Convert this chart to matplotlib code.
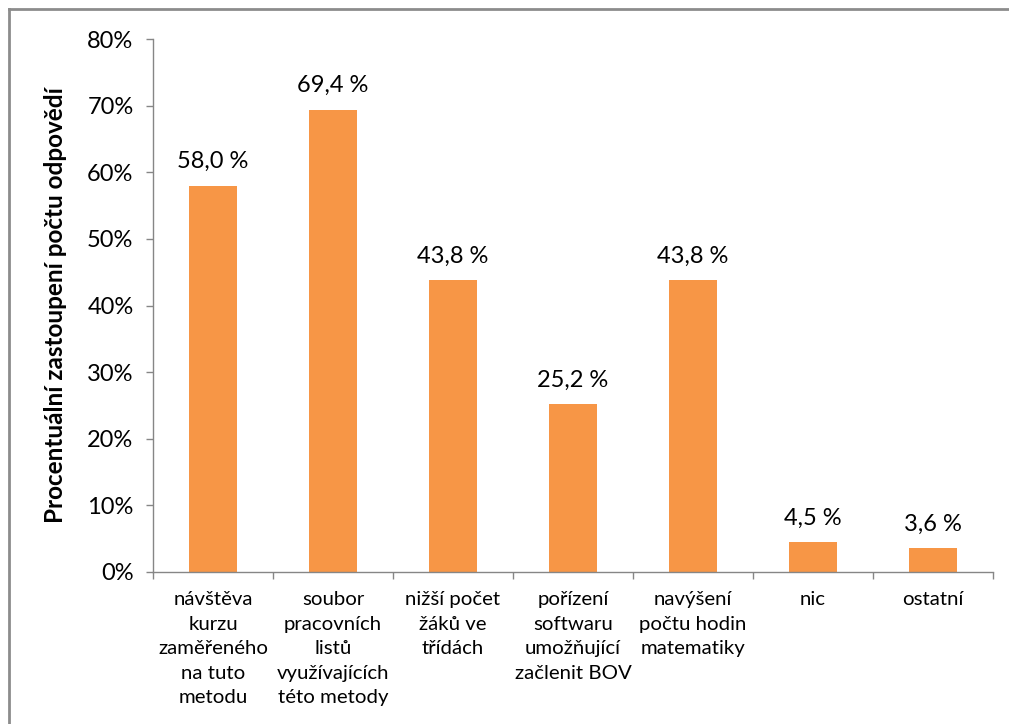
import matplotlib.pyplot as plt
import numpy as np
from matplotlib.lines import Line2D
from matplotlib.ticker import FuncFormatter, FixedLocator, NullFormatter

categories = [
    "návštěva\nkurzu\nzaměřeného\nna tuto\nmetodu",
    "soubor\npracovních\nlistů\nvyužívajících\ntéto metody",
    "nižší počet\nžáků ve\ntřídách",
    "pořízení\nsoftwaru\numožňující\nzačlenit BOV",
    "navýšení\npočtu hodin\nmatematiky",
    "nic",
    "ostatní",
]
values = [58.0, 69.4, 43.8, 25.2, 43.8, 4.5, 3.6]
value_labels = ["58,0 %", "69,4 %", "43,8 %", "25,2 %", "43,8 %", "4,5 %", "3,6 %"]
ylabel = "Procentuální zastoupení počtu odpovědí"

plt.rcParams["font.family"] = ["Lato", "DejaVu Sans"]
AXIS_GRAY = "#868686"
BAR_COLOR = "#F79646"

fig = plt.figure(figsize=(10.09, 7.24), dpi=100)
ax = fig.add_axes([153 / 1009, 1 - 572 / 724, 840 / 1009, 533 / 724])

xs = np.arange(len(categories))
ax.bar(xs, values, width=0.4, color=BAR_COLOR, zorder=2)

for x, v, lab in zip(xs, values, value_labels):
    ax.text(x, v + 2.0, lab, ha="center", va="bottom", fontsize=17, color="black")

ax.set_xlim(-0.5, len(categories) - 0.5)
ax.set_ylim(0, 80)
ax.set_yticks(np.arange(0, 81, 10))
ax.yaxis.set_major_formatter(FuncFormatter(lambda v, p: f"{int(v)}%"))
ax.tick_params(axis="y", labelsize=17, length=5, width=1, color=AXIS_GRAY, pad=9)

# category labels at centers, tick marks at category boundaries
ax.set_xticks(xs)
ax.set_xticklabels(categories, fontsize=14.7, linespacing=1.53, va="top")
ax.tick_params(axis="x", which="major", length=0, pad=14)
ax.xaxis.set_minor_locator(FixedLocator(np.arange(-0.5, len(categories), 1.0)))
ax.xaxis.set_minor_formatter(NullFormatter())
ax.tick_params(axis="x", which="minor", length=5, width=1, color=AXIS_GRAY)

for side in ["top", "right"]:
    ax.spines[side].set_visible(False)
for side in ["left", "bottom"]:
    ax.spines[side].set_color(AXIS_GRAY)
    ax.spines[side].set_linewidth(1)

ax.set_ylabel(ylabel, fontsize=17.5, fontweight="bold")
ax.yaxis.set_label_coords(-0.102, 0.5)

# chart-area frame (only top and left edges are visible in the crop)
fx0, fy0 = 8.5 / 1009, 1 - 9 / 724
fig.lines.append(Line2D([fx0, 1.0], [fy0, fy0], transform=fig.transFigure,
                        color="#8c8c8c", linewidth=2))
fig.lines.append(Line2D([fx0, fx0], [0.0, fy0], transform=fig.transFigure,
                        color="#8c8c8c", linewidth=2))

fig.savefig("out.png", dpi=100)
